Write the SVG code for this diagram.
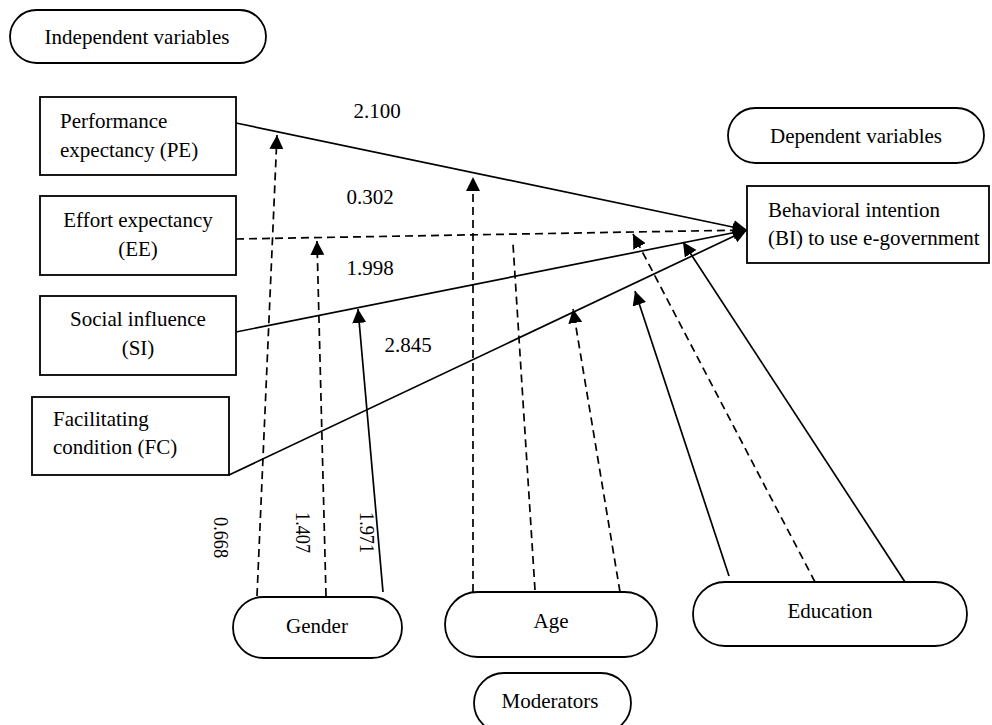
<svg xmlns="http://www.w3.org/2000/svg" width="992" height="725" viewBox="0 0 992 725">
<style>
.t{font-family:"Liberation Serif","Times New Roman",serif;font-size:21px;fill:#000}
.m{text-anchor:middle}
.box{fill:#fff;stroke:#000;stroke-width:1.8}
.ln{fill:none;stroke:#000;stroke-width:1.7}
.d{stroke-dasharray:8 5}
</style>
<defs>
<marker id="ah" markerUnits="userSpaceOnUse" markerWidth="15" markerHeight="15" refX="14" refY="7" orient="auto" viewBox="0 0 15 15">
<path d="M0,0 L14,7 L0,14 z" fill="#000"/>
</marker>
</defs>
<rect width="992" height="725" fill="#fff"/>

<g id="connectors">
<line class="ln" x1="236" y1="123" x2="747" y2="230" marker-end="url(#ah)"/>
<line class="ln d" x1="236" y1="239" x2="747" y2="230" marker-end="url(#ah)"/>
<line class="ln" x1="236" y1="332" x2="747" y2="230" marker-end="url(#ah)"/>
<line class="ln" x1="229" y1="475" x2="747" y2="230" marker-end="url(#ah)"/>

<line class="ln d" x1="257" y1="596" x2="277" y2="135" marker-end="url(#ah)"/>
<line class="ln d" x1="326" y1="596" x2="317" y2="241" marker-end="url(#ah)"/>
<line class="ln" x1="383" y1="592" x2="358" y2="309" marker-end="url(#ah)"/>

<line class="ln d" x1="473" y1="592" x2="473" y2="177" marker-end="url(#ah)"/>
<line class="ln d" x1="535" y1="590" x2="513" y2="244"/>
<line class="ln d" x1="620" y1="592" x2="573" y2="309" marker-end="url(#ah)"/>

<line class="ln" x1="729" y1="576" x2="635" y2="291" marker-end="url(#ah)"/>
<line class="ln d" x1="815" y1="582" x2="633" y2="234" marker-end="url(#ah)"/>
<line class="ln" x1="905" y1="582" x2="683" y2="242" marker-end="url(#ah)"/>
</g>

<g id="labels">
<text class="t m" x="377" y="118">2.100</text>
<text class="t m" x="370" y="204">0.302</text>
<text class="t m" x="370" y="275">1.998</text>
<text class="t m" x="408" y="352">2.845</text>
<text class="t" transform="translate(214,517) rotate(90) scale(0.87,1)">0.668</text>
<text class="t" transform="translate(296,512) rotate(90) scale(0.87,1)">1.407</text>
<text class="t" transform="translate(360,512) rotate(90) scale(0.87,1)">1.971</text>
</g>

<g id="independent-variables">
<rect class="box" x="10" y="10" width="256" height="53" rx="26.5"/>
<text class="t m" x="137" y="44">Independent variables</text>
</g>

<g id="pe">
<rect class="box" x="40" y="97" width="196" height="78"/>
<text class="t" x="60" y="128">Performance</text>
<text class="t" x="60" y="157">expectancy (PE)</text>
</g>

<g id="ee">
<rect class="box" x="40" y="196" width="196" height="79"/>
<text class="t m" x="138" y="227">Effort expectancy</text>
<text class="t m" x="138" y="256">(EE)</text>
</g>

<g id="si">
<rect class="box" x="40" y="296" width="196" height="79"/>
<text class="t m" x="138" y="326">Social influence</text>
<text class="t m" x="138" y="355">(SI)</text>
</g>

<g id="fc">
<rect class="box" x="32" y="397" width="197" height="78"/>
<text class="t" x="53" y="426">Facilitating</text>
<text class="t" x="53" y="454">condition (FC)</text>
</g>

<g id="dependent-variables">
<rect class="box" x="728" y="108" width="256" height="55" rx="27.5"/>
<text class="t m" x="856" y="143">Dependent variables</text>
</g>

<g id="bi">
<rect class="box" x="747" y="186" width="242" height="77"/>
<text class="t" x="768" y="217">Behavioral intention</text>
<text class="t" x="768" y="245">(BI) to use e-government</text>
</g>

<g id="gender">
<rect class="box" x="233" y="597" width="169" height="61" rx="30.5"/>
<text class="t m" x="317" y="633">Gender</text>
</g>

<g id="age">
<rect class="box" x="445" y="592" width="212" height="65" rx="32.5"/>
<text class="t m" x="551" y="628">Age</text>
</g>

<g id="education">
<rect class="box" x="693" y="582" width="274" height="64" rx="32"/>
<text class="t m" x="830" y="618">Education</text>
</g>

<g id="moderators">
<rect class="box" x="474" y="673" width="157" height="60" rx="30"/>
<text class="t m" x="550" y="708">Moderators</text>
</g>
</svg>
